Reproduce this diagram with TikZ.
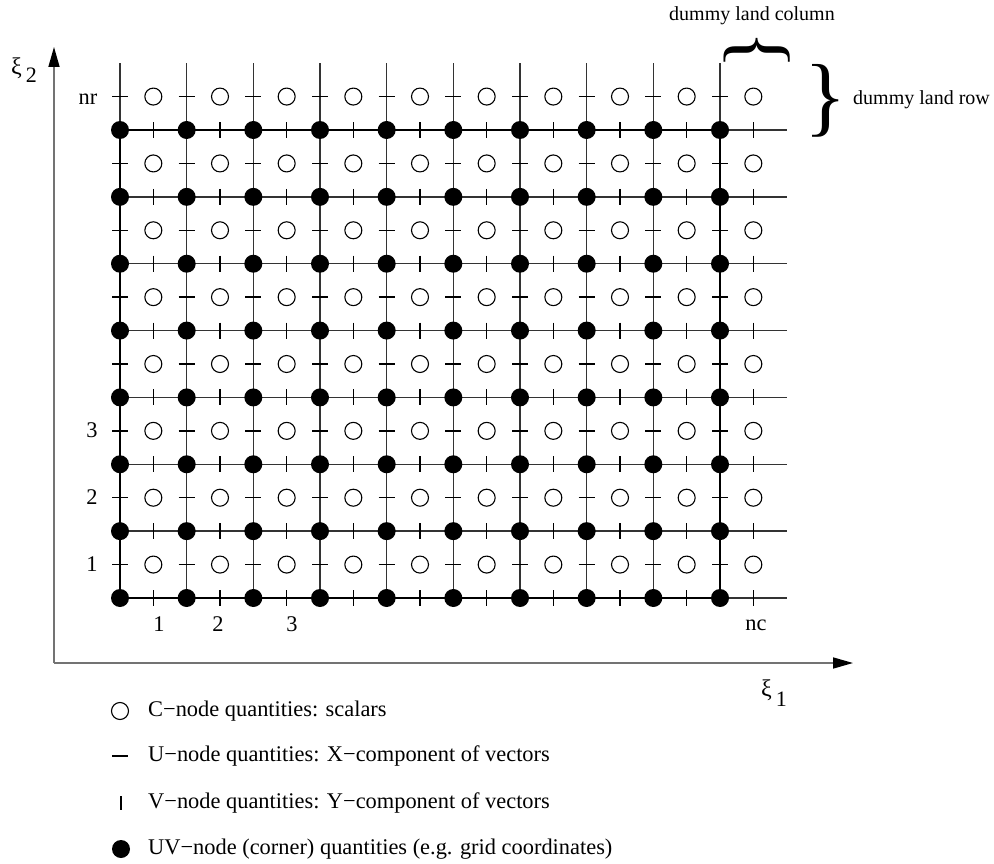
\documentclass[tikz,border=0pt]{standalone}
\usepackage{fontspec}
\setmainfont{Liberation Serif}
\usetikzlibrary{arrows.meta}
\begin{document}
\begin{tikzpicture}[x=1pt,y=-1pt,
  gridline/.style={line width=1.3pt, black!80},
  boundline/.style={line width=2.1pt, black},
  tickmark/.style={line width=1.3pt, black},
  cnode/.style={circle, draw, line width=1.1pt, minimum size=17pt, inner sep=0pt},
  uvnode/.style={circle, fill=black, minimum size=18pt, inner sep=0pt},
  lbl/.style={font=\fontsize{22.4}{26}\selectfont, inner sep=0pt},
  axlbl/.style={font=\fontsize{24}{28}\selectfont, inner sep=0pt},
  smalllbl/.style={font=\fontsize{20}{24}\selectfont, inner sep=0pt},
  bracefont/.style={font=\fontsize{80}{80}\selectfont, inner sep=0pt},
  bigbracefont/.style={font=\fontsize{88}{88}\selectfont, inner sep=0pt},
  axis/.style={line width=1.6pt, black!55, -{Triangle[length=20pt,width=11pt,color=black]}}
]
\useasboundingbox (0,0) rectangle (994,864);
\def\gx{66.667}
\def\gy{66.857}
% grid lines
\foreach \i in {0,...,9}
  \draw[gridline] (120+\i*\gx,598) -- (120+\i*\gx,63);
\foreach \j in {0,...,7}
  \draw[gridline] (120,598-\j*\gy) -- (787,598-\j*\gy);
\draw[boundline] (120,598) rectangle (720,130);
% U ticks (horizontal) and V ticks (vertical)
\foreach \i in {0,...,9}
  \foreach \j in {0,...,7} {
    \draw[tickmark] (120+\i*\gx-8,598-\j*\gy-0.5*\gy) -- ++(16,0);
    \draw[tickmark] (120+\i*\gx+0.5*\gx,598-\j*\gy-8) -- ++(0,16);
  }
% C nodes and UV nodes
\foreach \i in {0,...,9}
  \foreach \j in {0,...,7} {
    \node[cnode] (c-\i-\j) at (120+\i*\gx+0.5*\gx,598-\j*\gy-0.5*\gy) {};
    \node[uvnode] (uv-\i-\j) at (120+\i*\gx,598-\j*\gy) {};
  }
% row / column labels
\node[lbl] (row1) at (92,564) {1};
\node[lbl] (row2) at (92,497) {2};
\node[lbl] (row3) at (92,430) {3};
\node[lbl] (rownr) at (88,99) {nr};
\node[lbl] (col1) at (159,624) {1};
\node[lbl] (col2) at (218,624) {2};
\node[lbl] (col3) at (292,624) {3};
\node[lbl] (colnc) at (756,625) {nc};
% axes
\coordinate (orig) at (54,663);
\coordinate (ytip) at (54,47);
\coordinate (xtip) at (853,663);
\draw[axis] (orig) -- (ytip);
\draw[axis] (orig) -- (xtip);
\node[axlbl, anchor=base west] (xi2) at (11,75) {ξ\hspace{4pt}\raisebox{-8pt}{\fontsize{22}{26}\selectfont 2}};
\node[axlbl, anchor=base west] (xi1) at (761,696) {ξ\hspace{4pt}\raisebox{-10pt}{\fontsize{22}{26}\selectfont 1}};
% braces and dummy labels
\node[bracefont, rotate=90] (topbrace) at (757,50) {\}};
\node[bigbracefont] (rightbrace) at (826,101) {\}};
\node[smalllbl] (dlc) at (752,16) {dummy land column};
\node[smalllbl, anchor=west] (dlr) at (853,100) {dummy land row};
% legend
\node[cnode] (legc) at (120,711) {};
\coordinate (legu1) at (112,756);
\coordinate (legu2) at (128,756);
\draw[tickmark] (legu1) -- (legu2);
\coordinate (legv1) at (121,796);
\coordinate (legv2) at (121,810);
\draw[tickmark] (legv1) -- (legv2);
\node[uvnode] (leguv) at (121,849) {};
\node[lbl, anchor=west] (tc) at (148,711) {C−node quantities: scalars};
\node[lbl, anchor=west] (tu) at (148,756) {U−node quantities: X−component of vectors};
\node[lbl, anchor=west] (tv) at (148,803) {V−node quantities: Y−component of vectors};
\node[lbl, anchor=west] (tuv) at (148,849) {UV−node (corner) quantities (e.g. grid coordinates)};
\end{tikzpicture}
\end{document}
